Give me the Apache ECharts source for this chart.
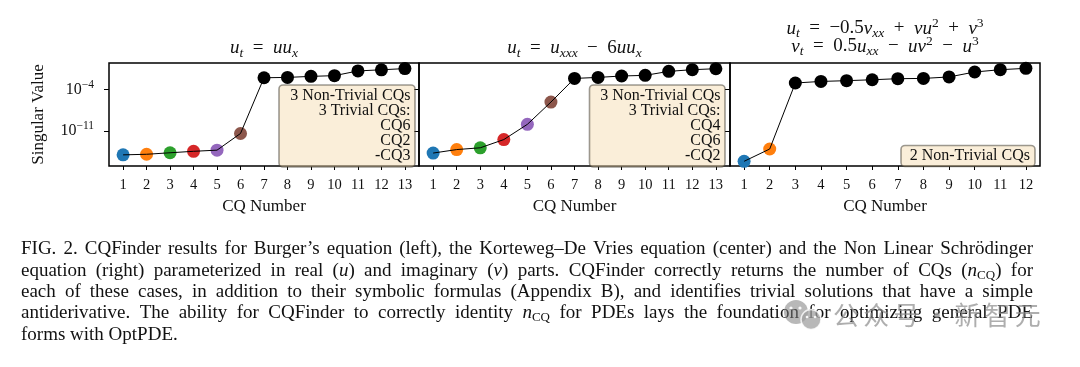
<!DOCTYPE html>
<html><head><meta charset="utf-8">
<script src="https://cdn.jsdelivr.net/npm/echarts@6/dist/echarts.min.js"></script>
<style>html,body{margin:0;padding:0;background:#fff}#c{width:1080px;height:367px}</style>
</head><body><div id="c"></div>
<script>
// ---------------- data ----------------
const cqBurgers = [1, 2, 3, 4, 5, 6, 7, 8, 9, 10, 11, 12, 13];
const svBurgers = [7.9e-16, 1.0e-15, 1.8e-15, 3.2e-15, 5.0e-15, 3.5e-12, 1.1e-2, 1.26e-2, 1.9e-2, 2.5e-2, 1.6e-1, 2.5e-1, 4.0e-1];
const cqKdV = [1, 2, 3, 4, 5, 6, 7, 8, 9, 10, 11, 12, 13];
const svKdV = [1.6e-15, 6.3e-15, 1.26e-14, 3.2e-13, 1.26e-10, 7.9e-7, 8.5e-3, 1.26e-2, 2.2e-2, 2.8e-2, 1.35e-1, 2.6e-1, 3.8e-1];
const cqNLS = [1, 2, 3, 4, 5, 6, 7, 8, 9, 10, 11, 12];
const svNLS = [6.3e-17, 7.9e-15, 1.4e-3, 2.6e-3, 3.5e-3, 5.0e-3, 7.6e-3, 8.5e-3, 1.5e-2, 1.05e-1, 2.6e-1, 4.4e-1];
const coloredCounts = [6, 6, 2];
const pointColors = ['#1f77b4', '#ff7f0e', '#2ca02c', '#d62728', '#9467bd', '#8c564b'];
const threshold = 1e-4;
const yTickValues = [1e-11, 1e-4];
const boxTexts = [
  ['3 Non-Trivial CQs', '3 Trivial CQs:', 'CQ6', 'CQ2', '-CQ3'],
  ['3 Non-Trivial CQs', '3 Trivial CQs:', 'CQ4', 'CQ6', '-CQ2'],
  ['2 Non-Trivial CQs']
];
const titleTexts = [
  ['{it|u}{sub|t}{rm|\u2002=\u2002}{it|uu}{sub|x}'],
  ['{it|u}{sub|t}{rm|\u2002=\u2002}{it|u}{sub|xxx}{rm|\u2002\u2212\u20026}{it|uu}{sub|x}'],
  ['{it|u}{sub|t}{rm|\u2002=\u2002\u22120.5}{it|v}{sub|xx}{rm|\u2002+\u2002}{it|vu}{sup|2}{rm|\u2002+\u2002}{it|v}{sup|3}',
   '{it|v}{sub|t}{rm|\u2002=\u20020.5}{it|u}{sub|xx}{rm|\u2002\u2212\u2002}{it|uv}{sup|2}{rm|\u2002\u2212\u2002}{it|u}{sup|3}']
];
const captionLines = [
  'FIG. 2. CQFinder results for Burger\u2019s equation (left), the Korteweg\u2013De Vries equation (center) and the Non Linear Schr\u00f6dinger',
  'equation (right) parameterized in real ({it|u}) and imaginary ({it|v}) parts. CQFinder correctly returns the number of CQs ({it|n}{sub|CQ}) for',
  'each of these cases, in addition to their symbolic formulas (Appendix B), and identifies trivial solutions that have a simple',
  'antiderivative. The ability for CQFinder to correctly identity {it|n}{sub|CQ} for PDEs lays the foundation for optimizing general PDE',
  'forms with OptPDE.'
];
const watermarkText = '公众号・新智元';

// ---------------- layout ----------------
const SERIF = '"Liberation Serif", "Times New Roman", serif';
const panels = [
  {cq: cqBurgers, sv: svBurgers, left: 109, width: 310, xmin: 0.4, xmax: 13.6},
  {cq: cqKdV, sv: svKdV, left: 419, width: 311, xmin: 0.4, xmax: 13.6},
  {cq: cqNLS, sv: svNLS, left: 730, width: 310, xmin: 0.45, xmax: 12.55}
];
const gridTop = 63, gridH = 103;
const yMin = 1e-17, yMax = 3.6;

const grids = [], xAxes = [], yAxes = [], series = [];
panels.forEach((p, i) => {
  grids.push({left: p.left, top: gridTop, width: p.width, height: gridH, show: true,
    borderColor: '#000', borderWidth: 1.5, backgroundColor: 'transparent', containLabel: false});
  xAxes.push({
    type: 'value', gridIndex: i, min: p.xmin, max: p.xmax,
    axisLine: {show: false}, splitLine: {show: false},
    axisTick: {show: true, inside: false, length: 4, customValues: p.cq, lineStyle: {color: '#000', width: 1}},
    axisLabel: {show: true, customValues: p.cq, margin: 12, color: '#111', fontFamily: SERIF, fontSize: 14.5},
    name: 'CQ Number', nameLocation: 'middle', nameGap: 32,
    nameTextStyle: {fontFamily: SERIF, fontSize: 17, color: '#111'}
  });
  yAxes.push({
    type: 'log', logBase: 10, gridIndex: i, min: yMin, max: yMax,
    axisLine: {show: false}, splitLine: {show: false},
    axisTick: {show: true, inside: false, length: 5, customValues: yTickValues, lineStyle: {color: '#000', width: 1}},
    axisLabel: {
      show: i === 0, customValues: yTickValues, margin: 15, color: '#111', fontFamily: SERIF, fontSize: 16, lineHeight: 22,
      formatter: v => '10{sup|\u2212' + Math.round(-Math.log10(v)) + '}',
      rich: {sup: {fontFamily: SERIF, fontSize: 11.5, lineHeight: 11, verticalAlign: 'top', color: '#111'}}
    },
    name: i === 0 ? 'Singular Value' : '', nameLocation: 'middle', nameGap: 62,
    nameTextStyle: {fontFamily: SERIF, fontSize: 17, color: '#111'}
  });
  series.push({
    type: 'scatter', xAxisIndex: i, yAxisIndex: i, z: 2, symbol: 'circle', symbolSize: 13,
    emphasis: {disabled: true}, silent: true, itemStyle: {opacity: 1},
    data: p.cq.map((x, k) => ({value: [x, p.sv[k]], itemStyle: {opacity: 1, color: k < coloredCounts[i] ? pointColors[k] : '#000'}}))
  });
  series.push({
    type: 'line', xAxisIndex: i, yAxisIndex: i, z: 3, symbol: 'none', silent: true,
    lineStyle: {color: '#000', width: 1}, emphasis: {disabled: true},
    data: p.cq.map((x, k) => [x, p.sv[k]]),
    markLine: {
      silent: true, symbol: ['none', 'none'], label: {show: false},
      lineStyle: {color: '#f01414', type: [9, 5], width: 2.5},
      emphasis: {disabled: true},
      data: [{yAxis: threshold}]
    }
  });
});

// ---------------- graphics ----------------
const graphics = [];
// titles
const titleRich = {
  it: {fontFamily: SERIF, fontStyle: 'italic', fontSize: 19, lineHeight: 24, fill: '#111'},
  rm: {fontFamily: SERIF, fontSize: 19, lineHeight: 24, fill: '#111'},
  sub: {fontFamily: SERIF, fontStyle: 'italic', fontSize: 13.5, lineHeight: 13, verticalAlign: 'bottom', fill: '#111'},
  sup: {fontFamily: SERIF, fontSize: 13.5, lineHeight: 13, verticalAlign: 'top', fill: '#111'}
};
const titleY = [[48], [48], [28.5, 46.5]];
titleTexts.forEach((lines, i) => {
  const cx = panels[i].left + panels[i].width / 2;
  lines.forEach((t, j) => {
    graphics.push({type: 'text', z: 20, silent: true, x: cx, y: titleY[i][j],
      style: {text: t, rich: titleRich, font: '19px ' + SERIF, lineHeight: 24,
        align: 'center', textAlign: 'center', verticalAlign: 'middle', textVerticalAlign: 'middle', fill: '#111'}});
  });
});
// annotation boxes
const boxes = [
  {x: 279, y: 85, w: 136, h: 82, tx: 410.5, ty: 87.7},
  {x: 589.5, y: 85, w: 135.5, h: 82, tx: 720.5, ty: 87.7},
  {x: 901, y: 145.5, w: 134, h: 21, tx: 1030, ty: 148.4}
];
boxes.forEach((b, i) => {
  graphics.push({type: 'rect', z: 30, silent: true,
    shape: {x: b.x, y: b.y, width: b.w, height: b.h, r: 4},
    style: {fill: 'rgba(245,222,179,0.5)', stroke: 'rgba(60,55,45,0.5)', lineWidth: 1.6}});
  graphics.push({type: 'text', z: 31, silent: true, x: b.tx, y: b.ty,
    style: {text: boxTexts[i].join('\n'), font: '16px ' + SERIF, lineHeight: 15.2,
      align: 'right', textAlign: 'right', verticalAlign: 'top', textVerticalAlign: 'top', fill: '#111'}});
});

// caption (justified)
const capFonts = {
  base: '19px ' + SERIF,
  it: 'italic 19px ' + SERIF,
  sub: '13px ' + SERIF
};
const capRich = {
  it: {fontFamily: SERIF, fontStyle: 'italic', fontSize: 19, lineHeight: 22, fill: '#111'},
  sub: {fontFamily: SERIF, fontSize: 13, lineHeight: 13, verticalAlign: 'bottom', fill: '#111'}
};
const mctx = document.createElement('canvas').getContext('2d');
function measureWord(w) {
  let total = 0;
  const re = /\{(\w+)\|([^}]*)\}|([^{]+)/g;
  let m;
  while ((m = re.exec(w)) !== null) {
    if (m[1]) { mctx.font = capFonts[m[1]]; total += mctx.measureText(m[2]).width; }
    else { mctx.font = capFonts.base; total += mctx.measureText(m[3]).width; }
  }
  return total;
}
const capLeft = 21, capRight = 1033, capY0 = 249.5, capDy = 21.3;
mctx.font = capFonts.base;
const spaceW = mctx.measureText(' ').width;
captionLines.forEach((line, li) => {
  const words = line.split(' ');
  const widths = words.map(measureWord);
  const sum = widths.reduce((a, b) => a + b, 0);
  const last = li === captionLines.length - 1;
  const gap = last ? spaceW : (capRight - capLeft - sum) / (words.length - 1);
  let x = capLeft;
  words.forEach((w, k) => {
    graphics.push({type: 'text', z: 20, silent: true, x: x, y: capY0 + li * capDy,
      style: {text: w, rich: capRich, font: capFonts.base, lineHeight: 22,
        align: 'left', textAlign: 'left', verticalAlign: 'middle', textVerticalAlign: 'middle', fill: '#111'}});
    x += widths[k] + gap;
  });
});

// watermark
graphics.push({type: 'circle', z: 40, silent: true, shape: {cx: 796, cy: 312, r: 12}, style: {fill: 'rgba(125,125,125,0.55)'}});
graphics.push({type: 'circle', z: 41, silent: true, shape: {cx: 811, cy: 319.5, r: 10}, style: {fill: 'rgba(160,160,160,0.75)', stroke: 'rgba(255,255,255,0.8)', lineWidth: 1.5}});
graphics.push({type: 'circle', z: 42, silent: true, shape: {cx: 791, cy: 308, r: 1.6}, style: {fill: 'rgba(255,255,255,0.9)'}});
graphics.push({type: 'circle', z: 42, silent: true, shape: {cx: 800, cy: 308, r: 1.6}, style: {fill: 'rgba(255,255,255,0.9)'}});
graphics.push({type: 'circle', z: 42, silent: true, shape: {cx: 807, cy: 317, r: 1.3}, style: {fill: 'rgba(255,255,255,0.9)'}});
graphics.push({type: 'circle', z: 42, silent: true, shape: {cx: 815, cy: 317, r: 1.3}, style: {fill: 'rgba(255,255,255,0.9)'}});
Array.from(watermarkText).forEach((ch, k) => {
  graphics.push({type: 'text', z: 40, silent: true, x: 846 + k * 30.3, y: 315,
    style: {text: ch, font: '26px "Noto Sans CJK SC"', align: 'center', textAlign: 'center',
      verticalAlign: 'middle', textVerticalAlign: 'middle', fill: 'rgba(140,140,140,0.7)'}});
});

const chart = echarts.init(document.getElementById('c'), null, {renderer: 'canvas', width: 1080, height: 367});
chart.setOption({
  animation: false,
  backgroundColor: '#fff',
  grid: grids, xAxis: xAxes, yAxis: yAxes, series: series,
  graphic: {elements: graphics}
});
</script>
</body></html>
